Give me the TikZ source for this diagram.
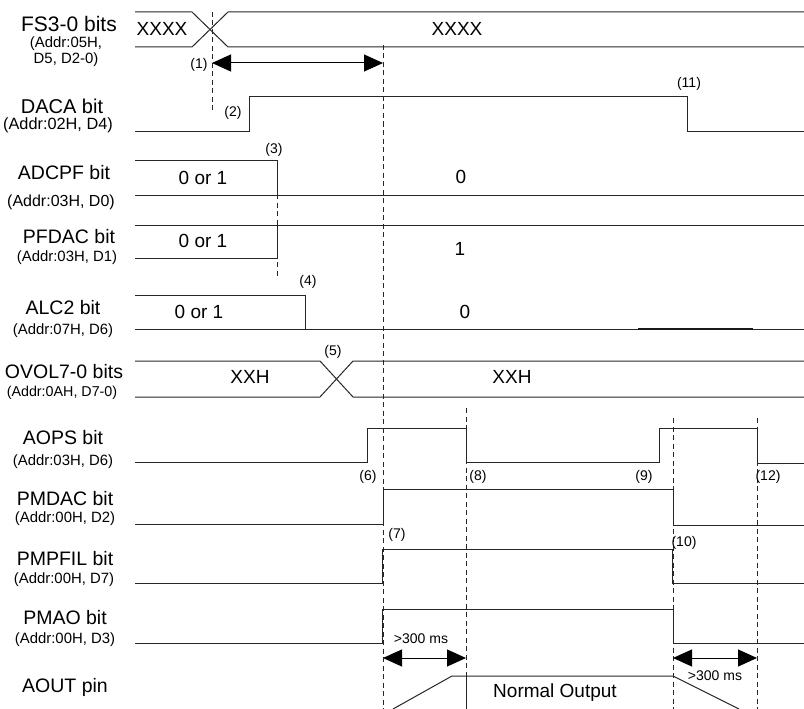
\documentclass[tikz,border=0pt]{standalone}
\usepackage{fontspec}
\setmainfont{Liberation Sans}
\usetikzlibrary{arrows.meta}
\begin{document}
\begin{tikzpicture}[x=1pt,y=-1pt,
  sig/.style={line width=1pt, draw=black!85},
  thick seg/.style={line width=1.6pt, draw=black!90},
  guide/.style={line width=0.9pt, draw=black!85, dash pattern=on 5pt off 3.5pt},
  dimarrow/.style={line width=1pt, draw=black, {Triangle[length=19pt,width=17pt]}-{Triangle[length=19pt,width=17pt]}},
  big/.style={font=\fontsize{19.5}{22}\selectfont, inner sep=0pt},
  small/.style={font=\fontsize{14.9}{17}\selectfont, inner sep=0pt},
  lbl/.style={font=\fontsize{14}{16}\selectfont, inner sep=0pt},
  val/.style={font=\fontsize{19}{22}\selectfont, inner sep=0pt}]
\useasboundingbox (0,0) rectangle (804,709);

% ---------- left labels ----------
\node[big, font=\fontsize{21}{24}\selectfont] (fsA) at (69,24)  {FS3-0 bits};
\node[small] (fsB) at (66,44)  {(Addr:05H,};
\node[small] (fsC) at (66,60)  {D5, D2-0)};
\node[big, font=\fontsize{20}{23}\selectfont] (dacaA) at (62,106) {DACA bit};
\node[small, font=\fontsize{16.3}{18}\selectfont] (dacaB) at (58,125) {(Addr:02H, D4)};
\node[big]   (adcA) at (64,173) {ADCPF bit};
\node[small, font=\fontsize{16}{18}\selectfont] (adcB) at (61,202) {(Addr:03H, D0)};
\node[big]   (pfA) at (69,237) {PFDAC bit};
\node[small] (pfB) at (67,258) {(Addr:03H, D1)};
\node[big]   (alcA) at (63,308) {ALC2 bit};
\node[small] (alcB) at (63,331) {(Addr:07H, D6)};
\node[big]   (ovA) at (64,372) {OVOL7-0 bits};
\node[small, font=\fontsize{14.3}{16}\selectfont] (ovB) at (62,393) {(Addr:0AH, D7-0)};
\node[big]   (aopsA) at (63,438) {AOPS bit};
\node[small] (aopsB) at (63,462) {(Addr:03H, D6)};
\node[big]   (pmdA) at (65,499) {PMDAC bit};
\node[small] (pmdB) at (65,519) {(Addr:00H, D2)};
\node[big]   (pmfA) at (65,559) {PMPFIL bit};
\node[small] (pmfB) at (64,580) {(Addr:00H, D7)};
\node[big]   (pmaA) at (65,618) {PMAO bit};
\node[small] (pmaB) at (65,640) {(Addr:00H, D3)};
\node[big]   (aoutA) at (65,687) {AOUT pin};

% ---------- guides (dashed) ----------
\draw[guide] (212,12) -- (212,111);
\draw[guide] (383,45) -- (383,709);
\draw[guide] (277,160) -- (277,277);
\draw[guide] (466,408) -- (466,709);
\draw[guide] (673,418) -- (673,709);
\draw[guide] (757,418) -- (757,709);

% ---------- FS3-0 ----------
\draw[sig] (135,12) -- (192,12) -- (228,47) -- (804,47);
\draw[sig] (135,47) -- (192,47) -- (228,12) -- (804,12);
\node[val] (fsX1) at (162,29) {XXXX};
\node[val] (fsX2) at (457,29) {XXXX};

% arrow (1)
\coordinate (a1L) at (212,63);
\coordinate (a1R) at (383,63);
\draw[dimarrow] (a1L) -- (a1R);
\node[lbl] (n1) at (199,65) {(1)};

% ---------- DACA ----------
\draw[sig] (135,131) -- (249,131) -- (249,97) -- (687,97) -- (687,131) -- (804,131);
\node[lbl] (n2) at (233,113) {(2)};
\node[lbl] (n11) at (689,84) {(11)};

% ---------- ADCPF ----------
\draw[sig] (135,160) -- (277,160) -- (277,195);
\draw[sig] (135,195) -- (804,195);
\node[lbl] (n3) at (274,150) {(3)};
\node[val] (adcV1) at (203,178) {0 or 1};
\node[val] (adcV2) at (461,177) {0};

% ---------- PFDAC ----------
\draw[sig] (135,225) -- (804,225);
\draw[sig] (135,258) -- (277,258) -- (277,225);
\node[val] (pfV1) at (203,241) {0 or 1};
\node[val] (pfV2) at (460,249) {1};

% ---------- ALC2 ----------
\draw[sig] (135,295) -- (305,295) -- (305,329);
\draw[sig] (135,329) -- (804,329);
\draw[thick seg] (638,329) -- (753,329);
\node[lbl] (n4) at (308,282) {(4)};
\node[val] (alcV1) at (199,312) {0 or 1};
\node[val] (alcV2) at (465,312) {0};

% ---------- OVOL ----------
\draw[sig] (135,361) -- (320,361) -- (353,397) -- (804,397);
\draw[sig] (135,397) -- (320,397) -- (353,361) -- (804,361);
\node[lbl] (n5) at (333,352) {(5)};
\node[val] (ovV1) at (250,377) {XXH};
\node[val] (ovV2) at (512,377) {XXH};

% ---------- AOPS ----------
\draw[sig] (135,462) -- (367,462) -- (367,428) -- (466,428) -- (466,462) -- (659,462) -- (659,428) -- (757,428) -- (757,463) -- (804,463);
\node[lbl] (n6) at (368,477) {(6)};
\node[lbl] (n8) at (478,477) {(8)};
\node[lbl] (n9) at (644,477) {(9)};
\node[lbl] (n12) at (768,477) {(12)};

% ---------- PMDAC ----------
\draw[sig] (135,524) -- (383,524) -- (383,489) -- (673,489) -- (673,525) -- (804,525);
\node[lbl] (n7) at (397,535) {(7)};

% ---------- PMPFIL ----------
\draw[sig] (135,583) -- (382,583) -- (382,549) -- (672,549) -- (672,583) -- (804,583);
\node[lbl] (n10) at (684,543) {(10)};

% ---------- PMAO ----------
\draw[sig] (135,643) -- (382,643) -- (382,609) -- (673,609) -- (673,643) -- (804,643);

% ---------- >300 ms arrows ----------
\coordinate (b1L) at (383,658);
\coordinate (b1R) at (466,658);
\draw[dimarrow] (b1L) -- (b1R);
\node[lbl] (t1) at (421,639) {>300 ms};
\coordinate (b2L) at (673,658);
\coordinate (b2R) at (757,658);
\draw[dimarrow] (b2L) -- (b2R);
\node[lbl] (t2) at (715,676) {>300 ms};

% ---------- AOUT ----------
\draw[sig] (393,709) -- (452,676) -- (673,676) -- (739,709);
\draw[sig] (466,676) -- (466,709);
\node[val] (normal) at (555,693) {Normal Output};
\end{tikzpicture}
\end{document}
